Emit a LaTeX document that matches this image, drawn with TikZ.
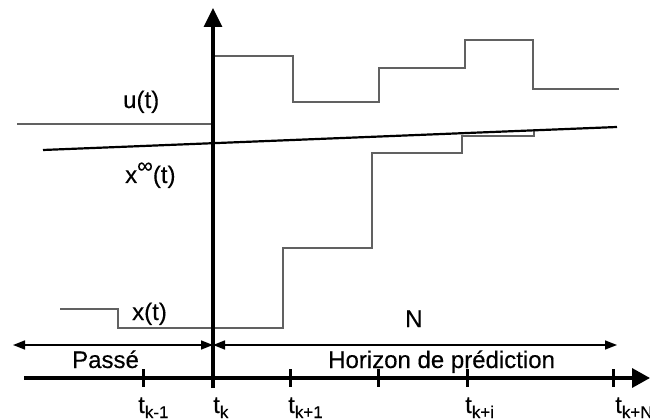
\documentclass[tikz,border=0pt]{standalone}
\usepackage{fontspec}
\setmainfont{Liberation Sans}[FakeBold=0.3]
\usetikzlibrary{arrows.meta}
\newcommand{\tsub}[1]{t\raisebox{-5pt}{\fontsize{17}{17}\selectfont #1}}
\begin{document}
\begin{tikzpicture}[x=1pt,y=-1pt,
  sig/.style={draw=black!62,line width=1.1pt},
  axisline/.style={line width=3.4pt},
  tickmark/.style={line width=3pt},
  span/.style={line width=1.6pt,{Triangle[length=12pt,width=9pt]}-{Triangle[length=12pt,width=9pt]}},
  lbl/.style={font=\fontsize{24}{26}\selectfont,inner sep=0pt,anchor=base west},
  tlbl/.style={font=\fontsize{24}{26}\selectfont,inner sep=0pt,anchor=base west}]
\useasboundingbox (0,0) rectangle (650,419);
% coordinates
\coordinate (vb) at (213,388);
\coordinate (vt) at (213,8);
\coordinate (hl) at (24,378);
\coordinate (hr) at (650,378);
\coordinate (pl) at (13,345);
\coordinate (pk) at (213,345);
\coordinate (pr) at (617,345);
\coordinate (il) at (43,150);
\coordinate (ir) at (617,127);
% u(t)
\draw[sig] (17,124) -- (213,124);
\draw[sig] (213,56) -- (293,56) -- (293,102) -- (379,102) -- (379,68) -- (465,68) -- (465,40) -- (533,40) -- (533,89) -- (619,89);
% x(t)
\draw[sig] (60,309) -- (118,309) -- (118,328) -- (283,328) -- (283,248) -- (372,248) -- (372,153) -- (462,153) -- (462,136) -- (534,136) -- (534,130);
% x infinity
\draw[line width=2.2pt] (il) -- (ir);
% axes
\draw[axisline,-{Triangle[length=19pt,width=18pt]}] (vb) -- (vt);
\draw[axisline,-{Triangle[length=18pt,width=19pt]}] (hl) -- (hr);
% ticks
\foreach \xx in {143,290,378,467,613}
  \draw[tickmark] (\xx,369) -- (\xx,387);
% spans
\draw[span] (pl) -- (pk);
\draw[span] (pk) -- (pr);
% labels
\node[lbl] (ul) at (123,108) {u(t)};
\node[lbl] (xil) at (125,183) {x\raisebox{10pt}{\fontsize{22}{22}\selectfont ∞}(t)};
\node[lbl] (xl) at (132,320) {x(t)};
\node[lbl] (passe) at (72,368) {Passé};
\node[lbl] (hor) at (328,368) {Horizon de prédiction};
\node[lbl] (nl) at (405,327) {N};
\node[tlbl] (t1) at (138,413) {\tsub{k-1}};
\node[tlbl] (t2) at (213,413) {\tsub{k}};
\node[tlbl] (t3) at (288,413) {\tsub{k+1}};
\node[tlbl] (t4) at (465,413) {\tsub{k+i}};
\node[tlbl] (t5) at (615,413) {\tsub{k+N}};
\end{tikzpicture}
\end{document}
